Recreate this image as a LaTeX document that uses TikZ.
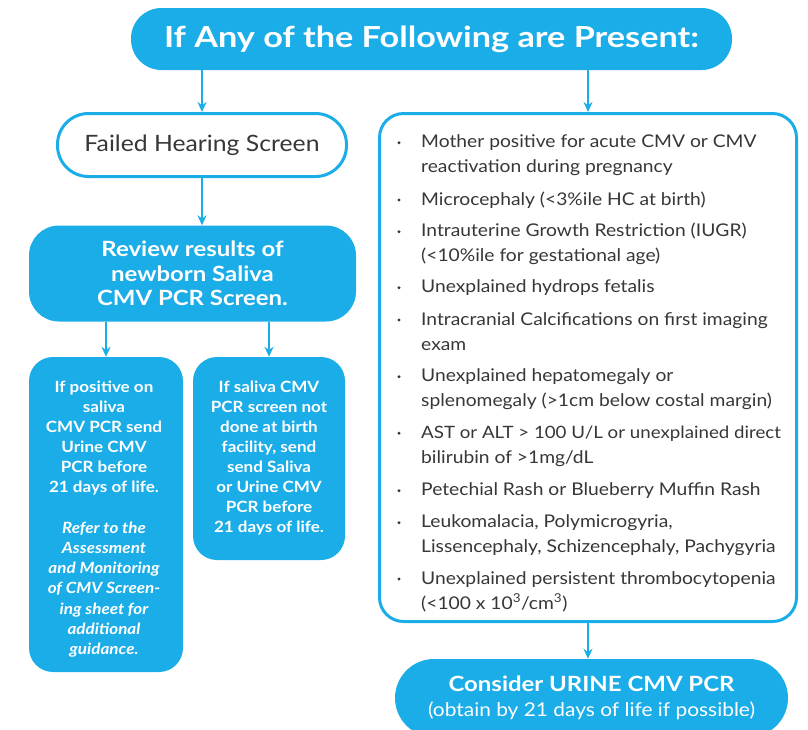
\documentclass[tikz,border=0pt]{standalone}
\usepackage{fontspec}
\setmainfont{Lato}[FakeStretch=1.1]
\newfontfamily\titlefont{Lato}[FakeStretch=1.18]
\newfontfamily\reviewfont{Lato}[FakeStretch=1.14]
\usetikzlibrary{arrows.meta}
\definecolor{cmvblue}{RGB}{27,173,232}
\definecolor{txtgray}{RGB}{55,55,55}
\begin{document}
\begin{tikzpicture}[x=1pt,y=-1pt,
  bluebox/.style={fill=cmvblue, draw=none, text=white, inner sep=0pt},
  linebox/.style={draw=cmvblue, line width=3pt, fill=white, inner sep=0pt},
  arr/.style={draw=cmvblue, line width=2pt, -{Stealth[length=10pt,width=9pt]}},
  item/.style={anchor=base west, inner sep=0pt, text=txtgray, font=\fontsize{17.5}{20}\selectfont},
  bdot/.style={circle, fill=txtgray, inner sep=0pt, minimum size=3.2pt},
  smalltext/.style={anchor=north, text=white, align=center, inner sep=0pt},
]
\useasboundingbox (0,0) rectangle (808,729);

% title
\node[bluebox, minimum width=601pt, minimum height=62pt, rounded corners=30.5pt,
      font=\titlefont\fontsize{29}{34}\bfseries\selectfont] (title) at (431.5,39) {If Any of the Following are Present:};

% left column
\node[linebox, minimum width=289pt, minimum height=63pt, rounded corners=31pt,
      text=txtgray, font=\fontsize{22.5}{27}\selectfont] (failed) at (202,145) {Failed Hearing Screen};

\node[bluebox, minimum width=327pt, minimum height=96pt, rounded corners=30pt, align=center,
      font=\reviewfont\fontsize{21}{24.5}\bfseries\selectfont] (review) at (192.5,273.5) {Review results of\\newborn Saliva\\CMV PCR Screen.};

\node[bluebox, minimum width=154pt, minimum height=315pt, rounded corners=24pt] (lbox) at (106,514.5) {};
\node[bluebox, minimum width=152pt, minimum height=203pt, rounded corners=24pt] (rbox) at (269,458.5) {};

\node[smalltext, font=\fontsize{15.5}{20}\bfseries\selectfont] (ltext) at (104,380.5)
  {If positive on\\saliva\\CMV PCR send\\Urine CMV\\PCR before\\21 days of life.};
\node[smalltext, font=\fontsize{15.5}{20.2}\bfseries\itshape\selectfont] (ltext2) at (104,521.5)
  {Refer to the\\Assessment\\and Monitoring\\of CMV Screen-\\ing sheet for\\additional\\guidance.};
\node[smalltext, font=\fontsize{15.5}{20.1}\bfseries\selectfont] (rtext) at (269,380.5)
  {If saliva CMV\\PCR screen not\\done at birth\\facility, send\\send Saliva\\or Urine CMV\\PCR before\\21 days of life.};

% right column
\node[linebox, minimum width=417pt, minimum height=508pt, rounded corners=24pt] (big) at (588,367.5) {};

\foreach \yy/\tt [count=\i] in {
  147.7/{Mother positive for acute CMV or CMV},
  172.7/{reactivation during pregnancy},
  205/{Microcephaly (<3\%ile HC at birth)},
  236.7/{Intrauterine Growth Restriction (IUGR)},
  261.7/{(<10\%ile for gestational age)},
  292.7/{Unexplained hydrops fetalis},
  325/{Intracranial Calcifications on first imaging},
  350/{exam},
  381.7/{Unexplained hepatomegaly or},
  406/{splenomegaly (>1cm below costal margin)},
  438.3/{\fontsize{17}{20}\selectfont AST or ALT > 100 U/L or unexplained direct},
  463.3/{bilirubin of >1mg/dL},
  495.7/{Petechial Rash or Blueberry Muffin Rash},
  527.7/{Leukomalacia, Polymicrogyria,},
  552.3/{Lissencephaly, Schizencephaly, Pachygyria},
  584/{Unexplained persistent thrombocytopenia},
  609/{(<100 x 10\textsuperscript{3}/cm\textsuperscript{3})}}
  \node[item] (ln\i) at (421,\yy) {\tt};

\foreach \yy [count=\i] in {147.7,205,236.7,292.7,325,381.7,438.3,495.7,527.7,584}
  \node[bdot] (bul\i) at (399,\yy-5) {};

\node[bluebox, minimum width=393pt, minimum height=78pt, rounded corners=39pt, align=center,
      font=\fontsize{19}{25}\selectfont] (consider) at (591.5,698)
  {{\reviewfont\bfseries\fontsize{21}{25}\selectfont Consider URINE CMV PCR}\\(obtain by 21 days of life if possible)};

% connectors
\draw[arr] (title.south -| failed) -- (failed.north);
\draw[arr] (title.south -| big) -- (big.north);
\draw[arr] (failed.south) -- (failed.south |- review.north);
\draw[arr] (review.south -| lbox) -- (lbox.north);
\draw[arr] (review.south -| rbox) -- (rbox.north);
\draw[arr] (big.south) -- (big.south |- consider.north);
\end{tikzpicture}
\end{document}
